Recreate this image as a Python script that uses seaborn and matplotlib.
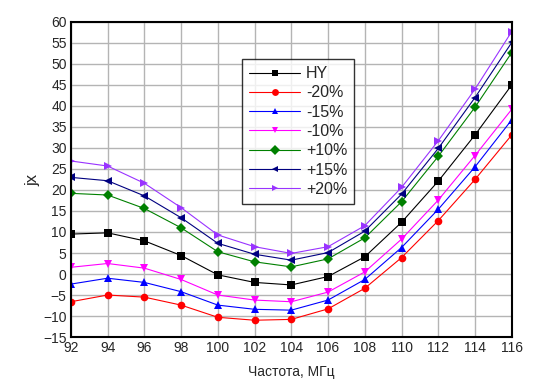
import numpy as np
import pandas as pd
import matplotlib
matplotlib.use('Agg')
import matplotlib.pyplot as plt
import seaborn as sns

freq = [92, 94, 96, 98, 100, 102, 104, 106, 108, 110, 112, 114, 116]

hy = [9.5, 9.8, 7.9, 4.4, -0.2, -2.0, -2.6, -0.6, 4.1, 12.3, 22.1, 33.1, 45.0]
m20 = [-6.6, -5.0, -5.5, -7.4, -10.3, -11.0, -10.8, -8.3, -3.4, 3.9, 12.7, 22.5, 33.1]
m15 = [-2.4, -1.0, -2.0, -4.2, -7.4, -8.4, -8.6, -6.2, -1.3, 6.3, 15.4, 25.5, 36.7]
m10 = [1.6, 2.5, 1.4, -1.3, -5.0, -6.2, -6.6, -4.3, 0.5, 8.3, 17.6, 28.2, 39.2]
p10 = [19.2, 18.8, 15.6, 11.0, 5.3, 2.9, 1.7, 3.6, 8.6, 17.2, 28.0, 39.7, 52.7]
p15 = [23.0, 22.2, 18.6, 13.4, 7.3, 4.7, 3.3, 5.1, 10.2, 19.0, 29.9, 42.0, 55.1]
p20 = [26.9, 25.7, 21.6, 15.8, 9.3, 6.5, 4.9, 6.5, 11.5, 20.6, 31.7, 44.0, 57.7]

series_names = ['HY', '-20%', '-15%', '-10%', '+10%', '+15%', '+20%']
series_vals = [hy, m20, m15, m10, p10, p15, p20]
colors = ['black', '#ff0000', '#0000ff', '#ff00ff', '#008000', '#000080', '#9933ff']
markers = ['s', 'o', '^', 'v', 'D', '<', '>']

rows = []
for name, vals in zip(series_names, series_vals):
    for f, v in zip(freq, vals):
        rows.append({'freq': f, 'jx': v, 'series': name})
df = pd.DataFrame(rows)

sns.set_style('white')
plt.rcParams['font.family'] = ['Liberation Sans', 'DejaVu Sans']

fig = plt.figure(figsize=(5.45, 3.91), dpi=100)
ax = fig.add_axes([0.130, 0.138, 0.809, 0.806])

sns.lineplot(data=df, x='freq', y='jx', hue='series', style='series',
             hue_order=series_names, style_order=series_names,
             palette=dict(zip(series_names, colors)),
             markers=dict(zip(series_names, markers)),
             dashes=False, linewidth=0.8, markersize=5.5,
             markeredgewidth=0, ax=ax)

ax.set_xlim(92, 116)
ax.set_ylim(-15, 60)
ax.set_xticks(np.arange(92, 117, 2))
ax.set_yticks(np.arange(-15, 61, 5))
ax.grid(True, color='#b4b4b4', linewidth=1)
for s in ax.spines.values():
    s.set_color('black')
    s.set_linewidth(1.5)
ax.tick_params(axis='both', labelsize=10, length=0, pad=3)
ax.set_xlabel('Частота, МГц', fontsize=10, labelpad=7)
ax.set_ylabel('jx', fontsize=12, labelpad=2)

leg = ax.legend(loc='upper left', bbox_to_anchor=(0.388, 0.8825), fontsize=11.5,
                frameon=True, fancybox=False, edgecolor='black',
                borderaxespad=0, handlelength=3.2, borderpad=0.45,
                labelspacing=0.27, handletextpad=0.35, markerscale=0.9)
leg.get_frame().set_linewidth(1.0)

fig.savefig('out.png', dpi=100)
